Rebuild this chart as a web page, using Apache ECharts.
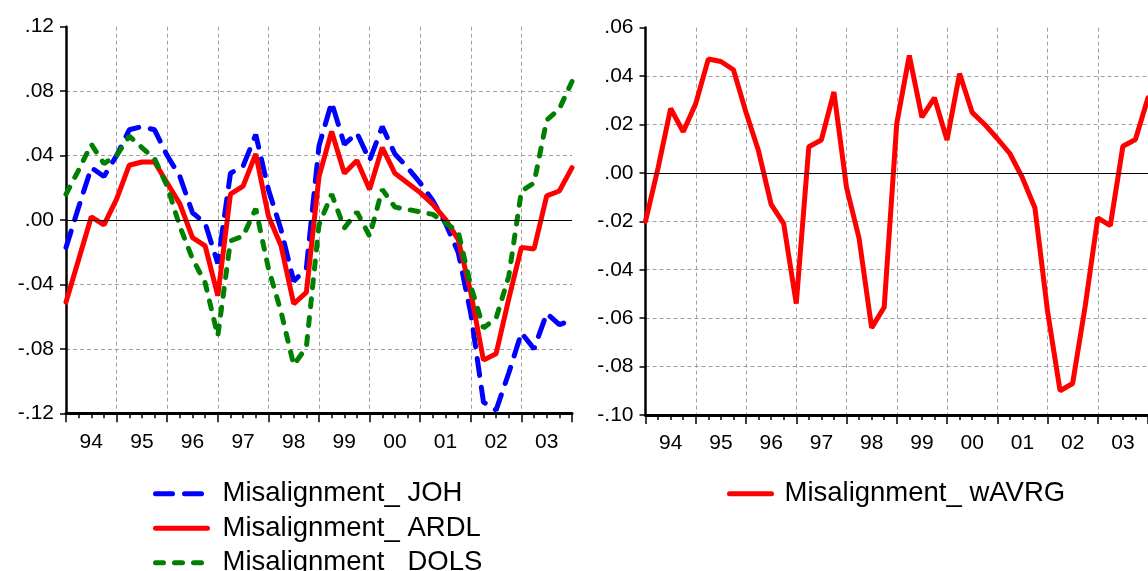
<!DOCTYPE html>
<html lang="en">
<head>
    <meta charset="UTF-8">
    <title>Misalignment</title>
    <script src="https://cdn.jsdelivr.net/npm/echarts@6/dist/echarts.min.js"></script>
    <style>
        html, body { margin: 0; padding: 0; background: #fff; }
    </style>
</head>
<body>
    <div id="main" style="width:1148px;height:571px;"></div>
    <script>
        // 1994Q1 .. 2004Q1
        var quarters = [];
        for (var y = 1994; y <= 2004; y++) {
            for (var q = 1; q <= 4; q++) {
                if (y === 2004 && q > 1) break;
                quarters.push(y + 'Q' + q);
            }
        }
        var yearLabels = ['94', '95', '96', '97', '98', '99', '00', '01', '02', '03'];

        var joh = [-0.017, 0.008, 0.0325, 0.027, 0.040, 0.056, 0.058, 0.056, 0.040, 0.027,
            0.0045, -0.002, -0.027, 0.029, 0.0335, 0.053, 0.019, -0.006, -0.038, -0.030,
            0.046, 0.073, 0.047, 0.054, 0.037, 0.058, 0.041, 0.0325, 0.023, 0.012,
            -0.002, -0.020, -0.058, -0.113, -0.118, -0.095, -0.070, -0.080, -0.058, -0.065, -0.062];
        var ardl = [-0.051, -0.0245, 0.002, -0.003, 0.013, 0.034, 0.036, 0.036, 0.023, 0.010,
            -0.011, -0.016, -0.047, 0.016, 0.021, 0.041, 0.0025, -0.016, -0.052, -0.045,
            0.027, 0.055, 0.029, 0.037, 0.019, 0.045, 0.029, 0.023, 0.017, 0.0097,
            0.0004, -0.012, -0.045, -0.087, -0.083, -0.049, -0.017, -0.018, 0.015, 0.018, 0.0325];
        var dols = [0.016, 0.031, 0.047, 0.035, 0.040, 0.052, 0.045, 0.038, 0.021, -0.004,
            -0.024, -0.039, -0.072, -0.013, -0.010, 0.007, -0.030, -0.057, -0.090, -0.079,
            -0.003, 0.016, -0.005, 0.005, -0.010, 0.019, 0.008, 0.0066, 0.005, 0.0035,
            -0.002, -0.007, -0.041, -0.067, -0.061, -0.035, 0.018, 0.023, 0.062, 0.069, 0.086];
        var wavrg = [-0.020, 0.002, 0.0266, 0.017, 0.0286, 0.047, 0.046, 0.0426, 0.025, 0.009,
            -0.013, -0.021, -0.054, 0.0108, 0.0136, 0.0334, -0.006, -0.027, -0.064, -0.0555,
            0.0204, 0.0485, 0.023, 0.031, 0.0136, 0.041, 0.025, 0.020, 0.0142, 0.008,
            -0.002, -0.0145, -0.057, -0.090, -0.087, -0.055, -0.0186, -0.0218, 0.011, 0.0138, 0.031];

        var FONT = 'Arial, "Liberation Sans", sans-serif';
        var gridLine = { show: true, showMinLine: false, showMaxLine: false,
            lineStyle: { color: '#a0a0a0', type: [4, 3], width: 1 } };

        function pairs(arr) {
            return arr.map(function (v, i) { return [i, v]; });
        }
        function fmt(v) {
            return v.toFixed(2).replace('0.', '.');
        }

        // x axes: value axis for data + category axis only for year labels
        function xAxes(gi) {
            return [{
                type: 'value', gridIndex: gi, min: 0, max: quarters.length - 1, interval: 4,
                axisLine: { show: true, onZero: false, lineStyle: { color: '#000', width: 3 } },
                axisTick: { show: true, length: 9, lineStyle: { color: '#000', width: 1.5 } },
                minorTick: { show: true, splitNumber: 4, length: 5, lineStyle: { color: '#000', width: 1.5 } },
                axisLabel: { show: false },
                splitLine: gridLine
            }, {
                type: 'category', gridIndex: gi, data: yearLabels, boundaryGap: true, position: 'bottom',
                axisLine: { show: false }, axisTick: { show: false }, splitLine: { show: false },
                axisLabel: { color: '#000', fontSize: 21, fontFamily: FONT, margin: 18 }
            }];
        }
        function yAxis(gi, min, max, step) {
            return {
                type: 'value', gridIndex: gi, min: min, max: max, interval: step,
                axisLine: { show: true, lineStyle: { color: '#000', width: 2.5 } },
                axisTick: { show: true, length: 6, lineStyle: { color: '#000', width: 1.5 } },
                axisLabel: { color: '#000', fontSize: 21, fontFamily: FONT, margin: 12, formatter: fmt },
                splitLine: gridLine
            };
        }
        function zeroLine(xi, yi) {
            return {
                type: 'line', xAxisIndex: xi, yAxisIndex: yi, data: [], z: 1, silent: true,
                markLine: { silent: true, symbol: 'none', label: { show: false },
                    lineStyle: { color: '#000', type: 'solid', width: 1 }, data: [{ yAxis: 0 }] }
            };
        }
        function line(name, arr, xi, yi, color, dash) {
            return {
                name: name, type: 'line', xAxisIndex: xi, yAxisIndex: yi, data: pairs(arr),
                symbol: 'none', z: 3,
                lineStyle: { color: color, width: 5, type: dash, cap: 'round' },
                itemStyle: { color: color }
            };
        }
        function legend(left, names, iconW, gap) {
            return {
                orient: 'vertical', left: left, top: 479.7, height: 120, padding: 0,
                itemWidth: iconW, itemHeight: 14, itemGap: 6.5,
                data: names,
                lineStyle: { width: 5 },
                itemStyle: { color: 'transparent', borderColor: 'transparent', borderWidth: 0 },
                textStyle: { color: '#000', fontSize: 27.5, fontFamily: FONT, lineHeight: 26, padding: [0, 0, 0, gap] }
            };
        }

        var chart = echarts.init(document.getElementById('main'));
        chart.setOption({
            animation: false,
            backgroundColor: '#fff',
            grid: [
                { left: 66, top: 26.7, width: 506, height: 386.6 },
                { left: 645.5, top: 27.6, width: 505, height: 387.4 }
            ],
            xAxis: xAxes(0).concat(xAxes(1)),
            yAxis: [yAxis(0, -0.12, 0.12, 0.04), yAxis(1, -0.10, 0.06, 0.02)],
            legend: [
                legend(153, ['Misalignment_ JOH', 'Misalignment_ ARDL', 'Misalignment_ DOLS'], 52, 10),
                legend(727, ['Misalignment_ wAVRG'], 42, 8)
            ],
            series: [
                zeroLine(0, 0),
                line('Misalignment_ JOH', joh, 0, 0, '#0000ff', [17, 12]),
                line('Misalignment_ ARDL', ardl, 0, 0, '#ff0000', 'solid'),
                line('Misalignment_ DOLS', dols, 0, 0, '#008000', [8, 11]),
                zeroLine(2, 1),
                line('Misalignment_ wAVRG', wavrg, 2, 1, '#ff0000', 'solid')
            ]
        });
    </script>
</body>
</html>
